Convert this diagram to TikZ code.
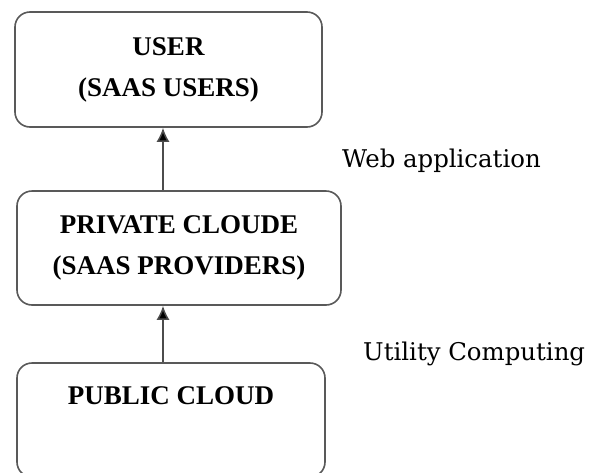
\documentclass[tikz,border=0pt]{standalone}
\usepackage{fontspec}
\setmainfont{Liberation Serif}
\newfontfamily\labelfont{DejaVu Serif}
\usetikzlibrary{arrows.meta}

\begin{document}
\begin{tikzpicture}[x=1pt, y=-1pt,
    layerbox/.style={draw=black!65, line width=1.6pt, rounded corners=15pt,
        inner sep=0pt, align=center,
        font=\fontsize{27}{41}\selectfont\bfseries},
    linklabel/.style={anchor=base west, inner sep=0pt,
        font=\labelfont\fontsize{24.4}{30}\selectfont},
    uparrow/.style={-{Latex[length=14pt, width=13pt, fill=black]}, line width=1.5pt, draw=black!70}]
    % Fix the page size
    \useasboundingbox (0,0) rectangle (598,472);

    % The three layers, bottom one runs off the page
    \node[layerbox, minimum width=307pt, minimum height=115pt] (user) at (168.5,69.5)
        {USER\\(SAAS USERS)};
    \node[layerbox, minimum width=324pt, minimum height=114pt] (private) at (179,248)
        {PRIVATE CLOUDE\\(SAAS PROVIDERS)};
    \node[layerbox, minimum width=308pt, minimum height=114pt] (public) at (171,420)
        {PUBLIC CLOUD\\[8pt]\mbox{}};

    % Line the arrows sit on
    \coordinate (stem) at (163,0);

    % Arrows between the layers
    \draw[uparrow] (private.north -| stem) -- (user.south -| stem);
    \draw[uparrow] (public.north -| stem) -- (private.south -| stem);

    % Labels for the links
    \node[linklabel] (weblabel) at (342,167) {Web application};
    \node[linklabel] (utillabel) at (363,360) {Utility Computing};
\end{tikzpicture}
\end{document}
